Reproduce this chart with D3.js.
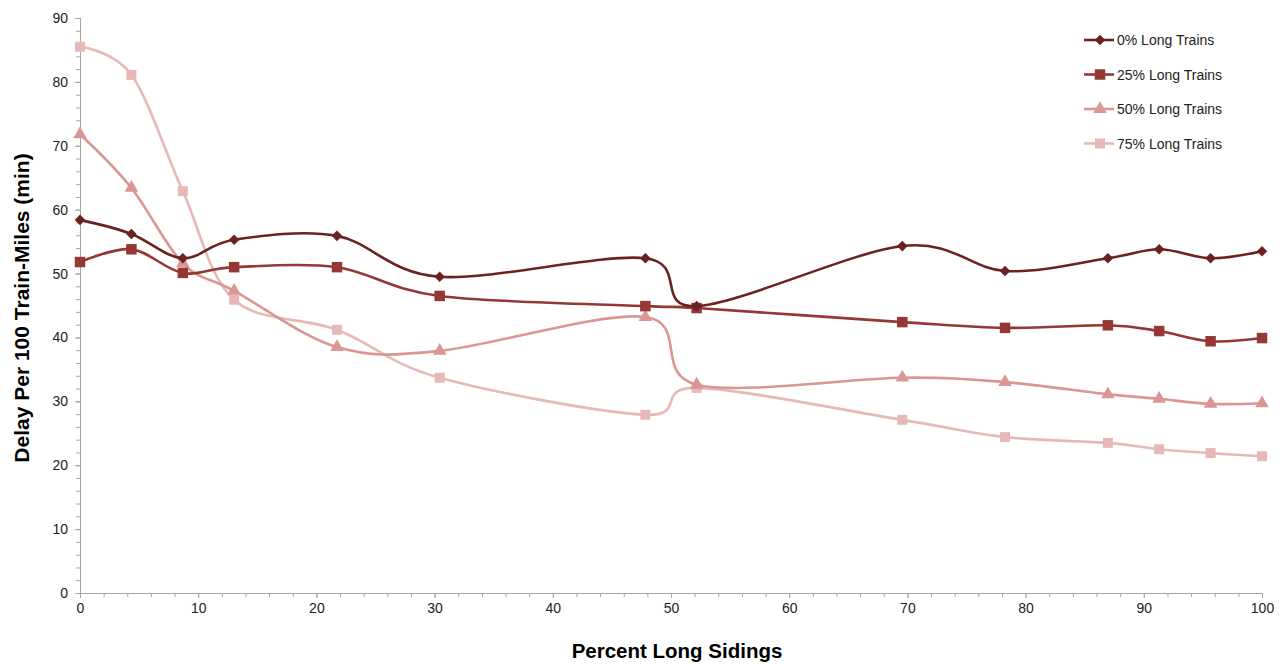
<!DOCTYPE html>
<html><head><meta charset="utf-8">
<script src="https://cdn.jsdelivr.net/npm/d3@7"></script>
<style>body{margin:0;background:#fff}svg{display:block}text{font-family:Arial,"Liberation Sans",sans-serif}</style>
</head><body><div id="chart"></div>
<script>
const xValues = [0, 4.35, 8.70, 13.04, 21.74, 30.43, 47.83, 52.17, 69.57, 78.26, 86.96, 91.30, 95.65, 100];
const seriesNames = ["0% Long Trains", "25% Long Trains", "50% Long Trains", "75% Long Trains"];
const s0 = [58.4, 56.2, 52.4, 55.3, 55.9, 49.5, 52.4, 44.9, 54.3, 50.4, 52.4, 53.8, 52.4, 53.5];
const s25 = [51.8, 53.8, 50.1, 51.0, 51.0, 46.5, 44.9, 44.6, 42.4, 41.5, 41.9, 41.0, 39.4, 39.9];
const s50 = [71.8, 63.4, 51.6, 47.3, 38.5, 37.9, 43.2, 32.6, 33.7, 33.0, 31.1, 30.4, 29.6, 29.7];
const s75 = [85.5, 81.1, 62.9, 45.9, 41.2, 33.7, 27.9, 32.1, 27.1, 24.4, 23.5, 22.5, 21.9, 21.4];
const xTicks = [0,10,20,30,40,50,60,70,80,90,100];
const yTicks = [0,10,20,30,40,50,60,70,80,90];

const colors = ["#6A2222", "#953735", "#D99694", "#E6B9B8"];
const diamond = { draw(ctx, size){ const r = Math.sqrt(size/2); ctx.moveTo(0,-r); ctx.lineTo(r,0); ctx.lineTo(0,r); ctx.lineTo(-r,0); ctx.closePath(); } };
const symbols = [diamond, d3.symbolSquare, d3.symbolTriangle, d3.symbolSquare];
const symSizes = [56, 110, 80, 100];
const allSeries = [s0, s25, s50, s75];

const W = 1284, H = 666;
const svg = d3.select("#chart").append("svg").attr("width", W).attr("height", H);
const x = d3.scaleLinear().domain([0,100]).range([80,1262]);
const y = d3.scaleLinear().domain([0,90]).range([593,18]);

const axisColor = "#A6A6A6";
// X axis
const gx = svg.append("g").attr("transform","translate(0,593)");
gx.call(d3.axisBottom(x).tickValues(d3.range(0,101,2)).tickSize(4).tickFormat(""));
gx.selectAll("path,line").attr("stroke",axisColor);
const gx2 = svg.append("g").attr("transform","translate(0,593)");
gx2.call(d3.axisBottom(x).tickValues(xTicks).tickSize(5).tickPadding(5).tickFormat(d3.format("d")));
gx2.selectAll("path,line").attr("stroke",axisColor);
gx2.selectAll("text").attr("font-size",14).attr("fill","#222");

// Y axis
const gy = svg.append("g").attr("transform","translate(80,0)");
gy.call(d3.axisLeft(y).tickValues(d3.range(0,91,2)).tickSize(4).tickFormat(""));
gy.selectAll("path,line").attr("stroke",axisColor);
const gy2 = svg.append("g").attr("transform","translate(80,0)");
gy2.call(d3.axisLeft(y).tickValues(yTicks).tickSize(5).tickPadding(7).tickFormat(d3.format("d")));
gy2.selectAll("path,line").attr("stroke",axisColor);
gy2.selectAll("text").attr("font-size",14).attr("fill","#222");

// titles
svg.append("text").attr("x",677).attr("y",658).attr("text-anchor","middle")
  .attr("font-size",20.5).attr("font-weight","bold").attr("fill","#000").text("Percent Long Sidings");
svg.append("text").attr("transform","translate(29,308) rotate(-90)").attr("text-anchor","middle")
  .attr("font-size",21).attr("font-weight","bold").attr("fill","#000").text("Delay Per 100 Train-Miles (min)");

// lines
const line = d3.line().x((d,i)=>x(xValues[i])).y(d=>y(d)).curve(d3.curveCatmullRom.alpha(0));
allSeries.slice().reverse().forEach((s,ri)=>{
  const k = 3-ri;
  svg.append("path").datum(s).attr("d",line).attr("fill","none").attr("stroke",colors[k]).attr("stroke-width",2.6);
  svg.append("g").selectAll("path").data(s).join("path")
    .attr("d",d3.symbol().type(symbols[k]).size(symSizes[k]))
    .attr("transform",(d,i)=>`translate(${x(xValues[i])},${y(d)})`)
    .attr("fill",colors[k]);
});

// legend
const lg = svg.append("g");
seriesNames.forEach((n,i)=>{
  const yy = 40 + i*34.5;
  lg.append("line").attr("x1",1084).attr("x2",1114).attr("y1",yy).attr("y2",yy).attr("stroke",colors[i]).attr("stroke-width",2.6);
  lg.append("path").attr("d",d3.symbol().type(symbols[i]).size(symSizes[i])()).attr("transform",`translate(1100,${yy})`).attr("fill",colors[i]);
  lg.append("text").attr("x",1117).attr("y",yy+5).attr("font-size",14).attr("fill","#222").text(n);
});
</script></body></html>
